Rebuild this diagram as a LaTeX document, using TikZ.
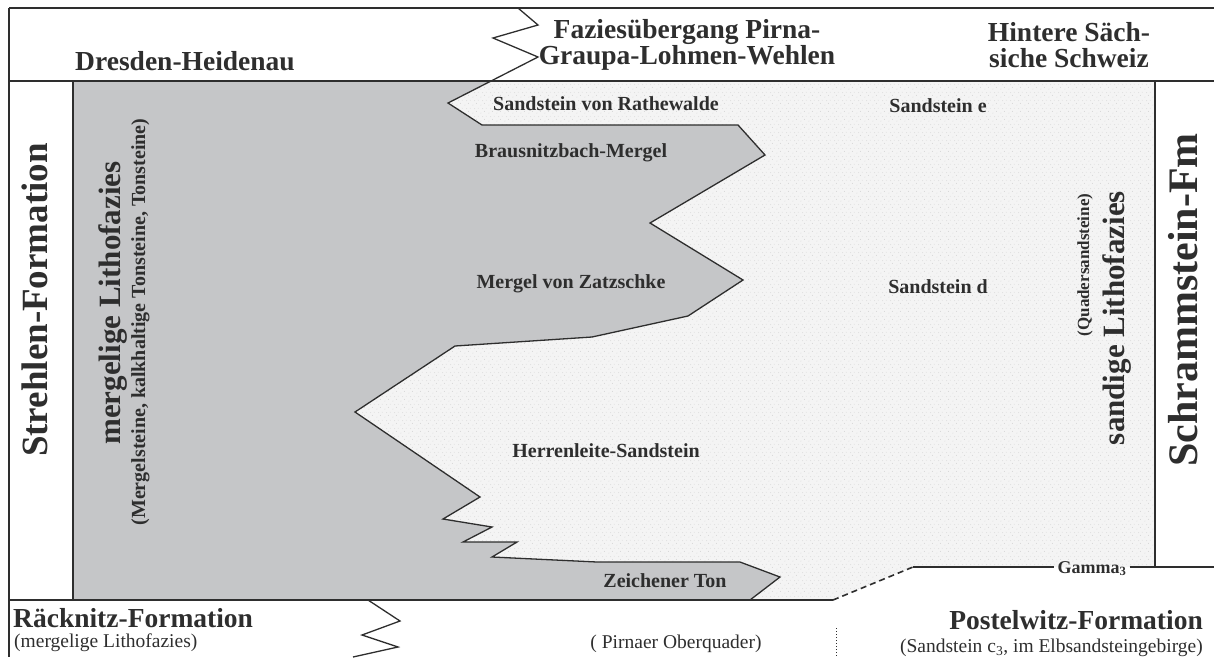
\documentclass[tikz,border=0pt]{standalone}
\usepackage{fontspec}
\setmainfont{Liberation Serif}
\usetikzlibrary{patterns.meta}

% fine dotted texture for the sandstone facies
\tikzdeclarepattern{
  name=sanddots,
  type=uncolored,
  bottom left={(0pt,0pt)},
  top right={(8pt,8pt)},
  tile size={(8pt,8pt)},
  code={
    \pgfpathcircle{\pgfpoint{1pt}{1pt}}{0.55pt}
    \pgfpathcircle{\pgfpoint{5pt}{3pt}}{0.55pt}
    \pgfpathcircle{\pgfpoint{3pt}{6pt}}{0.5pt}
    \pgfpathcircle{\pgfpoint{7pt}{6.5pt}}{0.5pt}
    \pgfusepath{fill}
  }
}

\definecolor{ink}{HTML}{2E2E2E}
\definecolor{marl}{HTML}{C5C6C8}
\definecolor{sand}{HTML}{F4F4F4}
\definecolor{sanddot}{HTML}{D4D4D4}

\tikzset{
  frameline/.style={draw=ink, line width=2.2pt},
  thinline/.style={draw=ink, line width=1.6pt},
  faciesline/.style={draw=ink, line width=1.3pt, line join=miter},
  txt/.style={text=ink, inner sep=0pt},
  hdr/.style={txt, font=\bfseries\fontsize{27.5}{26.5}\selectfont},
  unit/.style={txt, font=\bfseries\fontsize{20}{22}\selectfont},
  note/.style={txt, font=\fontsize{19.5}{21}\selectfont},
  bigform/.style={txt, font=\bfseries\fontsize{27.5}{29}\selectfont},
}

\begin{document}
\begin{tikzpicture}[x=1pt,y=-1pt]
\useasboundingbox (0,0) rectangle (1214,657);

% sandstone facies (dotted)
\path[fill=sand] (73,81) -- (1155,81) -- (1155,567) -- (913,567) -- (833,600) -- (73,600) -- cycle;
\path[pattern=sanddots, pattern color=sanddot] (73,81) -- (1155,81) -- (1155,567) -- (913,567) -- (833,600) -- (73,600) -- cycle;

% marly facies (grey)
\fill[marl] (73,81) -- (491,81) -- (448,103) -- (482,125) -- (738,125) -- (765,155)
  -- (650,223) -- (743,280) -- (688,316) -- (592,337) -- (455,346) -- (355,412)
  -- (480,497) -- (443,519) -- (492,527) -- (463,542) -- (517,542) -- (492,557)
  -- (597,562) -- (740,562) -- (780,577) -- (750,600) -- (73,600) -- cycle;

% facies boundary, continuing as a zigzag into the header
\draw[faciesline] (518,8) -- (538,25) -- (493,38) -- (538,57) -- (448,103) -- (482,125)
  -- (738,125) -- (765,155) -- (650,223) -- (743,280) -- (688,316) -- (592,337)
  -- (455,346) -- (355,412) -- (480,497) -- (443,519) -- (492,527) -- (463,542)
  -- (517,542) -- (492,557) -- (597,562) -- (740,562) -- (780,577) -- (750,600);

% frame
\draw[frameline] (9,8) -- (1214,8);
\draw[frameline] (9,8) -- (9,657);
\draw[frameline] (9,81) -- (1214,81);
\draw[thinline] (73,81) -- (73,600);
\draw[frameline] (9,600) -- (833,600);
\draw[thinline, dashed, dash pattern=on 6pt off 4pt] (833,600) -- (913,567);
\draw[thinline] (1155,81) -- (1155,567);

% zigzag below the base line
\draw[faciesline] (368,600) -- (400,621) -- (362,635) -- (398,647) -- (353,657);
% dotted separator in the underlying unit
\draw[ink, line width=1pt, dotted] (836,628) -- (836,657);

% Gamma3 horizon
\coordinate (g1) at (913,567);
\coordinate (g2) at (1214,567);
\node[txt, font=\bfseries\fontsize{18}{20}\selectfont, anchor=base, inner xsep=3pt] (gamma) at (1092,573) {Gamma\textsubscript{3}};
\draw[thinline] (g1) -- (gamma.west |- g1);
\draw[thinline] (gamma.east |- g2) -- (g2);

% header
\node[hdr, anchor=base] (dresden) at (185,70) {Dresden-Heidenau};
\node[hdr, align=center] (fazies) at (687,45) {Faziesübergang Pirna-\\Graupa-Lohmen-Wehlen};
\node[hdr, align=center] (hintere) at (1069,45) {Hintere Säch-\\siche Schweiz};

% vertical column titles
\node[txt, font=\bfseries\fontsize{37}{39}\selectfont, rotate=90, anchor=base] (strehlen) at (47,300) {Strehlen-Formation};
\node[txt, font=\bfseries\fontsize{31}{33}\selectfont, rotate=90, anchor=base] (mergel) at (120,303) {mergelige Lithofazies};
\node[txt, font=\bfseries\fontsize{20}{22}\selectfont, rotate=90, anchor=base] (mergelnote) at (145,322) {(Mergelsteine, kalkhaltige Tonsteine, Tonsteine)};
\node[txt, font=\bfseries\fontsize{42}{44}\selectfont, rotate=90, anchor=base] (schramm) at (1197,300) {Schrammstein-Fm};
\node[txt, font=\bfseries\fontsize{31}{33}\selectfont, rotate=90, anchor=base] (sandig) at (1124,318) {sandige Lithofazies};
\node[txt, font=\bfseries\fontsize{17}{19}\selectfont, rotate=90, anchor=base] (quader) at (1089,265) {(Quadersandsteine)};

% lithostratigraphic units
\node[unit, anchor=base] (rathewalde) at (606,110) {Sandstein von Rathewalde};
\node[unit, anchor=base] (brausnitz) at (571,157) {Brausnitzbach-Mergel};
\node[unit, anchor=base] (zatzschke) at (571,288) {Mergel von Zatzschke};
\node[unit, anchor=base] (sste) at (938,112) {Sandstein e};
\node[unit, anchor=base] (sstd) at (938,293) {Sandstein d};
\node[unit, anchor=base] (herrenleite) at (606,457) {Herrenleite-Sandstein};
\node[unit, anchor=base] (zeichen) at (665,587) {Zeichener Ton};

% underlying formations
\node[bigform, anchor=base west] (raecknitz) at (13,627) {Räcknitz-Formation};
\node[note, anchor=base west] (raecknitznote) at (14,647) {(mergelige Lithofazies)};
\node[note, anchor=base] (pirna) at (676,648) {( Pirnaer Oberquader)};
\node[bigform, anchor=base east] (postelwitz) at (1203,629) {Postelwitz-Formation};
\node[note, anchor=base east] (postelwitznote) at (1203,652) {(Sandstein c\textsubscript{3}, im Elbsandsteingebirge)};
\end{tikzpicture}
\end{document}
